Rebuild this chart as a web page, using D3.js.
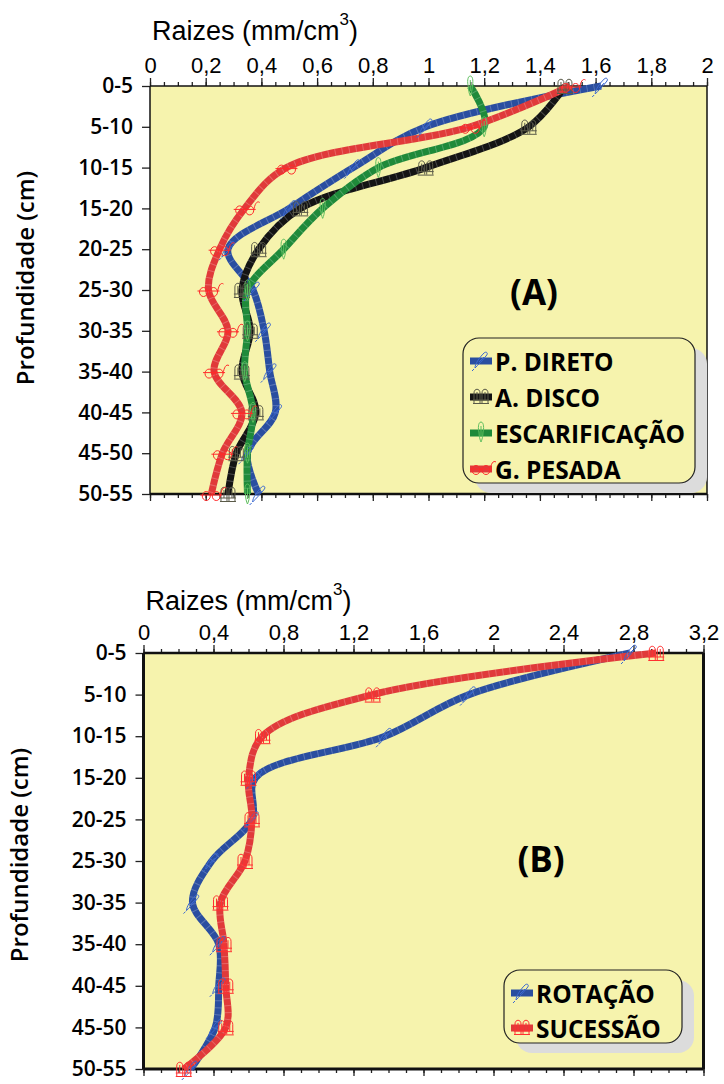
<!DOCTYPE html>
<html>
<head>
<meta charset="utf-8">
<script src="https://cdn.jsdelivr.net/npm/d3@7"></script>
<style>
  body { margin: 0; background: #fff; }
  svg { display: block; }
  .tick text { fill: #000; }
</style>
</head>
<body>
<svg id="chart" width="724" height="1084"></svg>
<script>
// depth classes (cm)
const depths = ['0-5', '5-10', '10-15', '15-20', '20-25', '25-30', '30-35', '35-40', '40-45', '45-50', '50-55'];

// panel A - root density (mm/cm3) by tillage system
const pDireto       = [1.62, 0.99, 0.73, 0.50, 0.28, 0.37, 0.41, 0.43, 0.45, 0.35, 0.39];
const aDisco        = [1.49, 1.36, 0.99, 0.54, 0.39, 0.33, 0.36, 0.33, 0.38, 0.31, 0.28];
const escarificacao = [1.15, 1.20, 0.82, 0.62, 0.48, 0.35, 0.35, 0.34, 0.37, 0.35, 0.35];
const gPesada       = [1.51, 1.15, 0.49, 0.34, 0.25, 0.21, 0.28, 0.23, 0.33, 0.26, 0.22];

// panel B - rotation vs succession
const rotacao  = [2.78, 1.86, 1.38, 0.64, 0.62, 0.39, 0.28, 0.43, 0.43, 0.41, 0.27];
const sucessao = [2.93, 1.31, 0.68, 0.60, 0.62, 0.58, 0.44, 0.46, 0.47, 0.47, 0.23];

const ticksA = [0, 0.2, 0.4, 0.6, 0.8, 1, 1.2, 1.4, 1.6, 1.8, 2];
const ticksB = [0, 0.4, 0.8, 1.2, 1.6, 2, 2.4, 2.8, 3.2];

const BG = '#f6f3ad';
const FONT = '"Open Sans", "DejaVu Sans", sans-serif';
const NARROW = '"Liberation Sans Narrow", "Liberation Sans", sans-serif';

const comma = d => String(d).replace('.', ',');

// little outline glyphs used as point markers
const glyphs = {
  pen: 'M-6,8 C-6,4 -2,-2 3,-7 C5,-9 8,-7 5,-4 C1,1 -3,5 -6,8 Z M-2,2 L3,-3 M-7,9 L-9,11',
  book: 'M-7,7 V-3 C-7,-8 -1,-8 -1,-3 V7 M1,7 V-3 C1,-8 7,-8 7,-3 V7 M-8,4 H8 M-8,7.5 H8 M-4,-4 V4 M4,-4 V4',
  pin: 'M0,-10 C3,-10 3,-3 2,0 C2,4 1,8 0,10 C-1,8 -2,4 -2,0 C-3,-3 -3,-10 0,-10 Z M0,-6 V5',
  glasses: 'M-9,2 a4,4.5 0 1,0 8,0 a4,4.5 0 1,0 -8,0 M1,2 a4,4.5 0 1,0 8,0 a4,4.5 0 1,0 -8,0 M-1,2 C-1,0 1,0 1,2 M9,2 C10,-4 12,-8 15,-6 M-11,1 H11'
};

const svg = d3.select('#chart');

function drawPanel(opt) {
  const g = svg.append('g');
  const x = d3.scaleLinear().domain(opt.domain).range(opt.xRange);
  const y = d3.scalePoint().domain(depths).range(opt.yRange);
  const [x0, x1] = opt.xRange;
  const [y0, y1] = opt.yRange;

  g.append('rect')
    .attr('x', x0).attr('y', y0)
    .attr('width', x1 - x0).attr('height', y1 - y0)
    .attr('fill', BG);

  const minor = d3.range(opt.domain[0], opt.domain[1] + opt.minor / 2, opt.minor);

  // top axis: minor + labelled major ticks
  g.append('g')
    .attr('transform', `translate(0,${y0})`)
    .call(d3.axisTop(x).tickValues(minor).tickSize(4).tickSizeOuter(0).tickFormat(''))
    .call(a => a.select('.domain').remove());
  g.append('g')
    .attr('transform', `translate(0,${y0})`)
    .call(d3.axisTop(x).tickValues(opt.ticks).tickSize(8).tickSizeOuter(0).tickPadding(5).tickFormat(comma))
    .call(a => a.select('.domain').remove())
    .call(a => a.selectAll('text').attr('font-family', NARROW).attr('font-size', 22));

  // bottom axis: ticks only
  g.append('g')
    .attr('transform', `translate(0,${y1})`)
    .call(d3.axisBottom(x).tickValues(minor).tickSize(4).tickSizeOuter(0).tickFormat(''))
    .call(a => a.select('.domain').remove());
  g.append('g')
    .attr('transform', `translate(0,${y1})`)
    .call(d3.axisBottom(x).tickValues(opt.ticks).tickSize(7).tickSizeOuter(0).tickFormat(''))
    .call(a => a.select('.domain').remove());

  // left axis with depth labels
  g.append('g')
    .attr('transform', `translate(${x0},0)`)
    .call(d3.axisLeft(y).tickSize(8).tickSizeOuter(0).tickPadding(9))
    .call(a => a.select('.domain').remove())
    .call(a => a.selectAll('text').attr('font-family', FONT).attr('font-weight', 600).attr('font-size', 21));

  g.selectAll('.tick line').attr('stroke', '#222').attr('stroke-width', 1.3);

  // frame
  const frame = g.append('g').attr('stroke', '#111').attr('fill', 'none');
  frame.append('line').attr('x1', x0).attr('x2', x1).attr('y1', y0).attr('y2', y0).attr('stroke-width', opt.frame.top);
  frame.append('line').attr('x1', x0).attr('x2', x1).attr('y1', y1).attr('y2', y1).attr('stroke-width', opt.frame.bottom);
  frame.append('line').attr('x1', x0).attr('x2', x0).attr('y1', y0).attr('y2', y1).attr('stroke-width', opt.frame.left);
  frame.append('line').attr('x1', x1).attr('x2', x1).attr('y1', y0).attr('y2', y1).attr('stroke-width', opt.frame.right);

  // series
  const line = d3.line()
    .x(d => x(d.v))
    .y(d => y(d.depth))
    .curve(d3.curveCatmullRom.alpha(0.5));

  opt.series.forEach(s => {
    const pts = s.values.map((v, i) => ({ v, depth: depths[i] }));
    g.append('path').datum(pts)
      .attr('d', line).attr('fill', 'none')
      .attr('stroke', s.color).attr('stroke-width', 7);
    g.append('path').datum(pts)
      .attr('d', line).attr('fill', 'none')
      .attr('stroke', '#fff').attr('stroke-opacity', 0.22)
      .attr('stroke-width', 7).attr('stroke-dasharray', '1 6');
  });
  opt.series.forEach(s => {
    g.selectAll(null).data(s.values).join('path')
      .attr('transform', (v, i) => `translate(${x(v)},${y(depths[i])})`)
      .attr('d', glyphs[s.glyph])
      .attr('fill', 'none').attr('stroke', s.mark).attr('stroke-width', 1);
  });

  // titles
  const title = g.append('text')
    .attr('x', x0 + 2).attr('y', opt.titleY)
    .attr('font-family', NARROW).attr('font-size', 27).attr('fill', '#000');
  title.append('tspan').text('Raizes (mm/cm');
  title.append('tspan').attr('font-size', 17).attr('dy', -15).text('3');
  title.append('tspan').attr('dy', 15).text(')');

  g.append('text')
    .attr('transform', `translate(${opt.ylabX},${opt.ylabY}) rotate(-90)`)
    .attr('text-anchor', 'middle')
    .attr('font-family', FONT).attr('font-weight', 600).attr('font-size', 24)
    .text('Profundidade (cm)');

  g.append('text')
    .attr('x', opt.tag[0]).attr('y', opt.tag[1])
    .attr('text-anchor', 'middle').attr('dominant-baseline', 'central')
    .attr('font-family', FONT).attr('font-weight', 700).attr('font-size', 35)
    .text(opt.tag[2]);

  // legend box
  const L = opt.legend;
  g.append('rect')
    .attr('x', L.x + 12).attr('y', L.y + 10).attr('width', L.w).attr('height', L.h)
    .attr('rx', 16).attr('fill', '#dcdcdc');
  g.append('rect')
    .attr('x', L.x).attr('y', L.y).attr('width', L.w).attr('height', L.h)
    .attr('rx', 16).attr('fill', BG).attr('stroke', '#222').attr('stroke-width', 1.2);
  opt.series.forEach((s, i) => {
    const cy = L.y + L.first + i * L.step;
    g.append('line')
      .attr('x1', L.x + 7).attr('x2', L.x + 29).attr('y1', cy).attr('y2', cy)
      .attr('stroke', s.color).attr('stroke-width', 7);
    g.append('path')
      .attr('transform', `translate(${L.x + 18},${cy - 1})`)
      .attr('d', glyphs[s.glyph])
      .attr('fill', 'none').attr('stroke', s.mark).attr('stroke-width', 1);
    g.append('text')
      .attr('x', L.x + 32).attr('y', cy)
      .attr('dominant-baseline', 'central')
      .attr('font-family', FONT).attr('font-weight', 700).attr('font-size', 24.5)
      .text(s.name);
  });
}

drawPanel({
  domain: [0, 2], ticks: ticksA, minor: 0.05,
  xRange: [150, 707], yRange: [86, 494],
  frame: { top: 1.5, bottom: 2.5, left: 1.5, right: 1.5 },
  titleY: 40, ylabX: 34, ylabY: 278, tag: [534, 291, '(A)'],
  legend: { x: 463, y: 338, w: 232, h: 145, first: 23, step: 36 },
  series: [
    { name: 'P. DIRETO', values: pDireto, color: '#2a4ea0', mark: '#3b68d0', glyph: 'pen' },
    { name: 'A. DISCO', values: aDisco, color: '#141414', mark: '#5a5a48', glyph: 'book' },
    { name: 'ESCARIFICAÇÃO', values: escarificacao, color: '#1f8a3a', mark: '#5fbf5f', glyph: 'pin' },
    { name: 'G. PESADA', values: gPesada, color: '#e03a3a', mark: '#ff2a2a', glyph: 'glasses' }
  ]
});

drawPanel({
  domain: [0, 3.2], ticks: ticksB, minor: 0.1,
  xRange: [143.5, 703.5], yRange: [653, 1069],
  frame: { top: 2.5, bottom: 3, left: 3, right: 3 },
  titleY: 610, ylabX: 28, ylabY: 855, tag: [541, 858, '(B)'],
  legend: { x: 504, y: 970, w: 178, h: 73, first: 23, step: 35 },
  series: [
    { name: 'ROTAÇÃO', values: rotacao, color: '#2a4ea0', mark: '#3b68d0', glyph: 'pen' },
    { name: 'SUCESSÃO', values: sucessao, color: '#e03a3a', mark: '#ff3030', glyph: 'book' }
  ]
});
</script>
</body>
</html>
